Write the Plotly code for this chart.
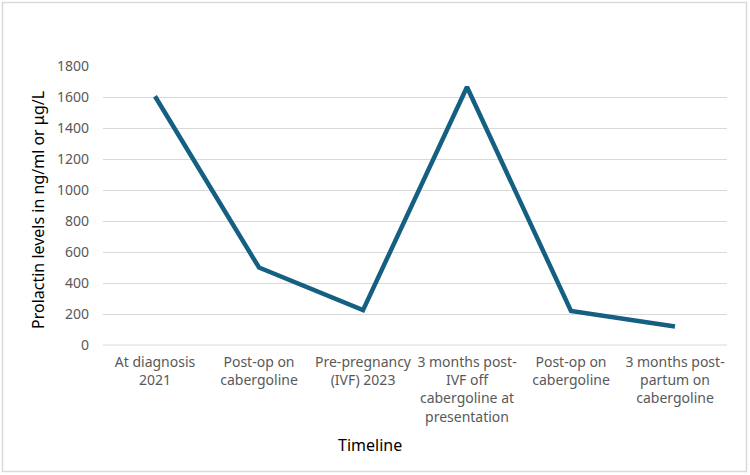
import plotly.graph_objects as go

categories = [
    "At diagnosis<br>2021",
    "Post-op on<br>cabergoline",
    "Pre-pregnancy<br>(IVF) 2023",
    "3 months post-<br>IVF off<br>cabergoline at<br>presentation",
    "Post-op on<br>cabergoline",
    "3 months post-<br>partum on<br>cabergoline",
]
prolactin = [1605, 500, 225, 1665, 220, 120]
y_ticks = [0, 200, 400, 600, 800, 1000, 1200, 1400, 1600, 1800]

W, H = 750, 475
L, R, T, B = 103, 23, 66, 130
pw = W - L - R
ph = H - T - B

def px(x):
    return (x - L) / pw

def py(y):
    return (H - B - y) / ph

fig = go.Figure()
fig.add_trace(go.Scatter(
    x=list(range(len(categories))),
    y=prolactin,
    mode="lines",
    line=dict(color="#156082", width=4.5),
    hoverinfo="skip",
))

fig.update_layout(
    width=W, height=H,
    margin=dict(l=L, r=R, t=T, b=B),
    paper_bgcolor="white",
    plot_bgcolor="white",
    showlegend=False,
    font=dict(family="Noto Sans, Open Sans, sans-serif", color="#595959", size=14),
    xaxis=dict(
        range=[-0.5, len(categories) - 0.5],
        tickmode="array",
        tickvals=list(range(len(categories))),
        ticktext=categories,
        showgrid=False,
        zeroline=False,
        showline=False,
        ticks="",
        tickfont=dict(size=14, color="#595959"),
        ticklabelstandoff=7,
    ),
    yaxis=dict(
        range=[0, 1800],
        tickmode="array",
        tickvals=y_ticks,
        ticktext=[str(v) for v in y_ticks],
        showgrid=True,
        gridcolor="#D9D9D9",
        gridwidth=1,
        zeroline=False,
        showline=False,
        ticks="",
        tickfont=dict(size=14, color="#595959"),
        ticklabelstandoff=13,
    ),
    shapes=[
        dict(type="rect", xref="paper", yref="paper",
             x0=px(2.5), x1=px(W - 3.5), y0=py(H - 3.5), y1=py(2.5),
             line=dict(color="#D9D9D9", width=1.5), fillcolor="rgba(0,0,0,0)",
             layer="below"),
        dict(type="line", xref="paper", yref="paper",
             x0=0, x1=1, y0=0, y1=0,
             line=dict(color="#D9D9D9", width=1)),
    ],
    annotations=[
        dict(text="Prolactin levels in ng/ml or μg/L", xref="paper", yref="paper",
             x=px(38), y=py(210), textangle=-90, showarrow=False,
             font=dict(size=16, color="#000000"), xanchor="center", yanchor="middle"),
        dict(text="Timeline", xref="paper", yref="paper",
             x=px(370), y=py(445), showarrow=False,
             font=dict(size=16, color="#000000"), xanchor="center", yanchor="middle"),
    ],
)

fig.write_html("out.html")
